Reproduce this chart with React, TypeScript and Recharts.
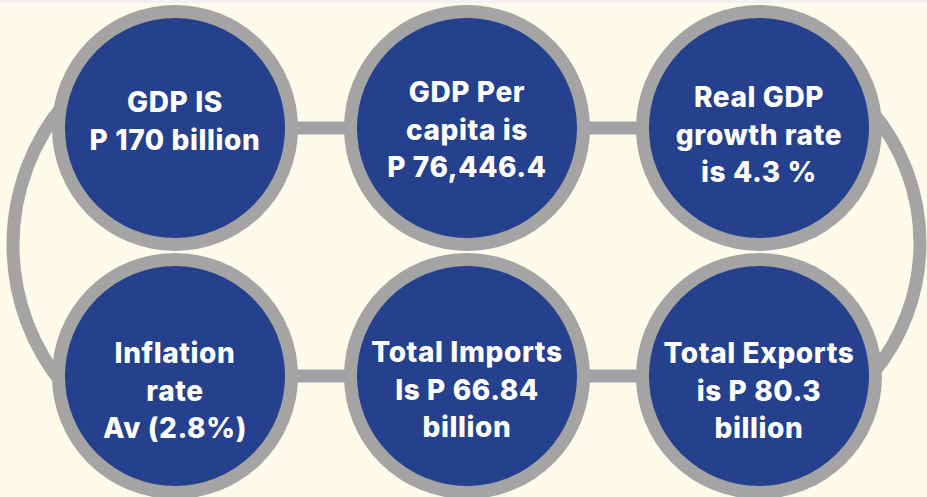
import React from 'react';
import { ScatterChart, Scatter, XAxis, YAxis } from 'recharts';

// six facts, laid out on a 3 x 2 grid (column, row)
const factLabels = [
  ['GDP IS', 'P 170 billion'],
  ['GDP Per', 'capita is', 'P 76,446.4'],
  ['Real GDP', 'growth rate', 'is 4.3 %'],
  ['Inflation', 'rate', 'Av (2.8%)'],
  ['Total Imports', 'Is P 66.84', 'billion'],
  ['Total Exports', 'is P 80.3', 'billion'],
];
const factCols = [0, 1, 2, 0, 1, 2];
const factRows = [0, 0, 0, 1, 1, 1];

const W = 927;
const H = 497;
const BG = '#fefbea';
const BLUE = '#25408c';
const RING = '#a4a4a4';
const BAR = '#a0a1a5';
const R = 116.5;
const RING_W = 13;
const LINE_GAP = 37.5;
const textShift = [-7, 2, 7, 15, 14, 15];

const nodes = factLabels.map((lines, i) => ({ x: factCols[i], y: factRows[i], lines, i }));
const topRow = nodes.filter((n) => n.y === 0);
const bottomRow = nodes.filter((n) => n.y === 1);
// outer loop on both ends, halfway between the two rows
const loops = [
  { x: 0, y: 0.5, side: -1 },
  { x: 2, y: 0.5, side: 1 },
];

const Empty = () => <g />;

const Node = (props: any) => {
  const { cx, cy, payload } = props;
  const lines: string[] = payload.lines;
  const first = cy + 10 - ((lines.length - 1) * LINE_GAP) / 2 + textShift[payload.i];
  return (
    <g>
      <circle cx={cx} cy={cy} r={R} fill={BLUE} stroke={RING} strokeWidth={RING_W} />
      <text
        textAnchor="middle"
        fill="#ffffff"
        fontFamily="Inter, 'Open Sans', sans-serif"
        fontWeight={800}
        fontSize={28}
        letterSpacing={0.6}
      >
        {lines.map((l, k) => (
          <tspan key={k} x={cx} y={first + k * LINE_GAP}>
            {l}
          </tspan>
        ))}
      </text>
    </g>
  );
};

const Loop = (props: any) => {
  const { cx, cy, payload } = props;
  const left = payload.side < 0;
  const r = left ? 220 : 204;
  const ax = cx + (left ? 58 : -43);
  const ay = cy + (left ? -7 : -9);
  const a = (40 * Math.PI) / 180;
  const dx = r * Math.cos(a);
  const dy = r * Math.sin(a);
  const d = left
    ? `M ${ax - dx} ${ay + dy} A ${r} ${r} 0 0 1 ${ax - dx} ${ay - dy}`
    : `M ${ax + dx} ${ay - dy} A ${r} ${r} 0 0 1 ${ax + dx} ${ay + dy}`;
  return <path d={d} fill="none" stroke={RING} strokeWidth={RING_W} />;
};

export default function App() {
  return (
    <div
      style={{
        position: 'absolute',
        left: 0,
        top: 0,
        width: W,
        height: H,
        background: `linear-gradient(#f2f2f0 0 3px, ${BG} 3px)`,
      }}
    >
      <ScatterChart width={W} height={H} margin={{ top: 0, right: 0, bottom: 0, left: 0 }}>
        <XAxis type="number" dataKey="x" domain={[-0.5993, 2.5754]} hide allowDataOverflow />
        <YAxis type="number" dataKey="y" domain={[-0.516, 1.488]} reversed hide allowDataOverflow />
        <Scatter data={loops} shape={<Loop />} isAnimationActive={false} />
        <Scatter
          data={topRow}
          line={{ stroke: BAR, strokeWidth: RING_W }}
          shape={<Empty />}
          isAnimationActive={false}
        />
        <Scatter
          data={bottomRow}
          line={{ stroke: BAR, strokeWidth: RING_W }}
          shape={<Empty />}
          isAnimationActive={false}
        />
        <Scatter data={nodes} shape={<Node />} isAnimationActive={false} />
      </ScatterChart>
    </div>
  );
}
